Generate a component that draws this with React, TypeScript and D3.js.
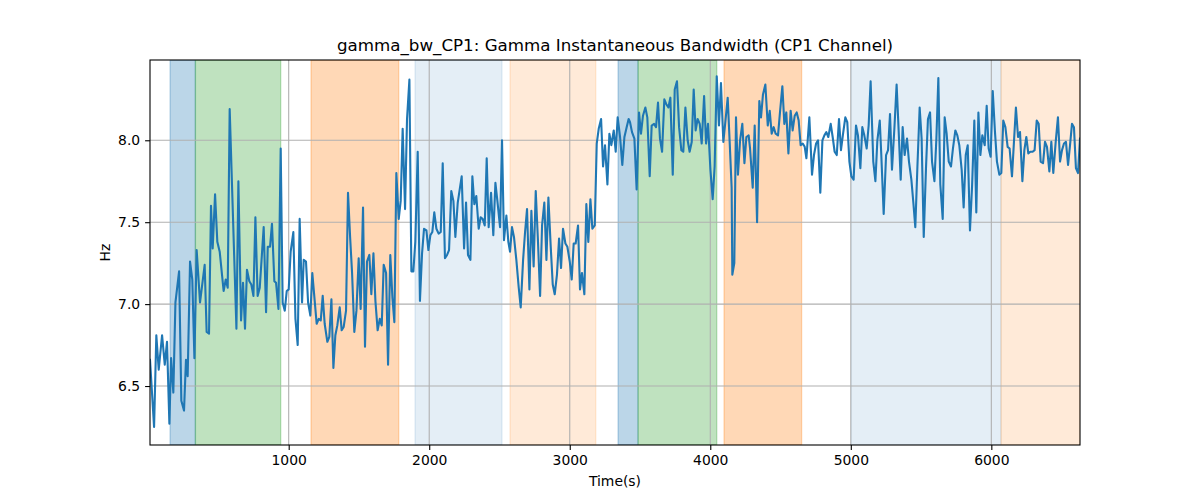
import * as d3 from "d3";
import { useEffect, useRef } from "react";

// sample times (s) and gamma bandwidth (Hz)
const times = [
  13, 42, 58, 75, 99, 118, 134, 151, 163, 179, 194, 220, 236, 255, 269, 281, 298, 314, 329, 345,
  369, 402, 416, 433, 447, 459, 476, 492, 509, 537, 552, 566, 580, 628, 642, 661, 675, 689, 703, 720,
  734, 749, 763, 779, 794, 822, 839, 851, 867, 881, 898, 910, 927, 943, 957, 972, 986, 1000, 1014, 1033,
  1048, 1064, 1078, 1095, 1107, 1123, 1138, 1154, 1168, 1185, 1199, 1214, 1228, 1242, 1256, 1275, 1289, 1304, 1318, 1332,
  1346, 1363, 1377, 1391, 1408, 1422, 1437, 1451, 1467, 1482, 1498, 1512, 1529, 1543, 1557, 1574, 1588, 1603, 1617, 1633,
  1648, 1662, 1676, 1693, 1707, 1723, 1738, 1752, 1766, 1783, 1797, 1811, 1828, 1842, 1859, 1873, 1887, 1901, 1918, 1934,
  1949, 1963, 1980, 1994, 2008, 2022, 2036, 2051, 2067, 2082, 2096, 2112, 2127, 2141, 2157, 2172, 2186, 2203, 2217, 2231,
  2248, 2262, 2276, 2293, 2307, 2321, 2335, 2352, 2366, 2380, 2395, 2409, 2423, 2440, 2456, 2471, 2485, 2504, 2518, 2532,
  2549, 2563, 2575, 2589, 2603, 2620, 2637, 2651, 2668, 2682, 2696, 2713, 2727, 2743, 2758, 2774, 2789, 2803, 2819, 2834,
  2848, 2864, 2879, 2893, 2909, 2924, 2938, 2952, 2969, 2983, 3000, 3014, 3028, 3042, 3059, 3073, 3087, 3104, 3118, 3132,
  3147, 3161, 3178, 3192, 3206, 3223, 3237, 3251, 3268, 3282, 3296, 3313, 3327, 3341, 3358, 3374, 3389, 3405, 3419, 3429,
  3443, 3460, 3476, 3493, 3507, 3521, 3538, 3552, 3569, 3583, 3600, 3614, 3628, 3642, 3657, 3673, 3687, 3702, 3716, 3733,
  3747, 3763, 3778, 3794, 3808, 3823, 3839, 3853, 3868, 3882, 3896, 3910, 3925, 3939, 3956, 3970, 3984, 4001, 4017, 4031,
  4046, 4062, 4076, 4093, 4107, 4124, 4138, 4152, 4157, 4171, 4183, 4197, 4212, 4228, 4243, 4257, 4273, 4283, 4302, 4316,
  4333, 4349, 4361, 4375, 4392, 4409, 4423, 4437, 4451, 4465, 4482, 4496, 4513, 4527, 4541, 4556, 4572, 4586, 4601, 4615,
  4629, 4643, 4658, 4672, 4684, 4705, 4724, 4738, 4753, 4767, 4783, 4798, 4812, 4826, 4840, 4857, 4871, 4885, 4900, 4916,
  4930, 4945, 4961, 4975, 4990, 5004, 5020, 5037, 5051, 5068, 5082, 5096, 5113, 5127, 5141, 5160, 5175, 5189, 5206, 5217,
  5234, 5251, 5265, 5279, 5293, 5310, 5326, 5341, 5355, 5369, 5383, 5400, 5414, 5431, 5445, 5459, 5474, 5490, 5504, 5519,
  5535, 5549, 5564, 5578, 5595, 5609, 5623, 5637, 5654, 5668, 5682, 5697, 5713, 5727, 5744, 5758, 5772, 5789, 5803, 5818,
  5832, 5848, 5863, 5879, 5893, 5908, 5922, 5936, 5953, 5967, 5981, 5995, 6010, 6026, 6040, 6057, 6071, 6085, 6100, 6116,
  6130, 6147, 6161, 6175, 6190, 6204, 6221, 6235, 6249, 6263, 6278, 6294, 6308, 6323, 6337, 6351, 6368, 6382, 6396, 6413,
  6427, 6441, 6458, 6474, 6489, 6503, 6517, 6531, 6546, 6560, 6574, 6588, 6602, 6617, 6631,
];

const bandwidth = [
  6.66, 6.25, 6.81, 6.60, 6.81, 6.63, 6.77, 6.27, 6.67, 6.46, 7.01, 7.20, 6.41, 6.35, 6.66, 6.56, 7.26, 7.15, 6.67, 7.33,
  7.01, 7.24, 6.83, 6.82, 7.60, 7.34, 7.67, 7.38, 7.32, 7.08, 7.15, 7.10, 8.19, 6.85, 7.75, 6.90, 7.13, 6.85, 7.21, 7.14,
  7.12, 7.05, 7.53, 7.05, 7.10, 7.47, 6.95, 7.35, 7.35, 7.49, 7.14, 7.13, 6.97, 7.95, 7.01, 6.96, 7.08, 7.09, 7.32, 7.44,
  6.91, 6.75, 7.52, 7.01, 7.27, 7.26, 7.01, 6.93, 7.19, 7.02, 6.88, 6.91, 6.90, 7.05, 6.88, 6.77, 6.80, 7.03, 6.61, 6.81,
  6.87, 6.98, 6.84, 6.86, 6.96, 7.68, 7.41, 7.19, 6.83, 6.96, 7.28, 6.97, 7.59, 6.74, 7.26, 7.30, 7.06, 7.31, 7.02, 6.84,
  6.91, 6.87, 7.24, 7.19, 6.63, 7.30, 7.04, 6.89, 7.80, 7.52, 7.63, 8.07, 7.58, 8.13, 8.37, 7.20, 7.20, 7.38, 7.93, 7.02,
  7.31, 7.46, 7.45, 7.33, 7.42, 7.44, 7.56, 7.46, 7.43, 7.44, 7.86, 7.28, 7.30, 7.33, 7.69, 7.63, 7.41, 7.62, 7.70, 7.78,
  7.34, 7.62, 7.30, 7.27, 7.78, 7.61, 7.66, 7.46, 7.53, 7.52, 7.48, 7.89, 7.47, 7.68, 7.42, 7.74, 7.63, 7.47, 8.00, 7.39,
  7.54, 7.38, 7.32, 7.47, 7.41, 7.27, 7.10, 6.98, 7.27, 7.44, 7.58, 7.09, 7.57, 7.23, 7.69, 7.38, 7.05, 7.48, 7.62, 7.27,
  7.65, 7.36, 7.12, 7.06, 7.18, 7.40, 7.22, 7.46, 7.37, 7.35, 7.26, 7.15, 7.37, 7.37, 7.48, 7.09, 7.19, 7.06, 7.61, 7.38,
  7.64, 7.46, 7.48, 7.98, 8.07, 8.13, 7.84, 7.97, 7.73, 8.04, 7.97, 8.06, 7.93, 8.14, 8.02, 7.85, 8.02, 8.08, 8.13, 8.11,
  8.05, 8.01, 7.70, 8.17, 8.04, 8.15, 8.20, 8.14, 7.78, 8.09, 8.10, 8.08, 8.23, 8.01, 7.93, 8.25, 8.22, 8.20, 8.26, 7.79,
  8.31, 8.36, 8.08, 7.94, 7.93, 8.20, 8.00, 7.93, 7.99, 8.31, 8.06, 8.13, 8.10, 7.98, 8.27, 7.98, 8.10, 7.82, 7.64, 7.84,
  8.39, 8.09, 8.35, 7.99, 8.11, 8.26, 7.99, 7.71, 7.18, 7.25, 8.14, 7.79, 8.00, 8.10, 7.86, 8.02, 8.03, 7.95, 7.71, 8.09,
  7.50, 8.24, 8.14, 8.28, 8.34, 8.09, 8.18, 8.04, 8.08, 8.04, 8.03, 8.17, 8.33, 8.10, 8.17, 7.92, 8.18, 8.06, 8.15, 8.17,
  8.12, 7.97, 7.98, 7.96, 7.89, 8.14, 7.79, 7.91, 7.98, 8.00, 7.68, 8.00, 8.03, 8.05, 8.02, 8.10, 8.02, 7.93, 7.91, 8.13,
  7.94, 8.04, 8.14, 8.11, 7.87, 7.78, 7.76, 8.09, 8.03, 7.83, 8.08, 8.03, 7.95, 8.09, 8.36, 7.87, 7.75, 8.00, 8.12, 7.91,
  7.55, 7.91, 7.94, 8.16, 7.82, 8.07, 8.34, 8.05, 7.76, 8.08, 7.91, 8.01, 7.87, 7.76, 7.62, 7.47, 7.84, 8.20, 8.01, 7.41,
  7.83, 8.13, 8.17, 7.87, 7.75, 8.01, 8.38, 7.73, 7.52, 8.14, 8.04, 7.87, 7.84, 7.95, 8.06, 8.03, 7.97, 7.82, 7.59, 7.91,
  7.97, 7.45, 7.72, 8.12, 7.56, 8.17, 7.91, 8.03, 7.97, 8.21, 7.95, 7.90, 8.30, 8.05, 7.87, 7.79, 7.80, 8.12, 8.08, 7.96,
  7.95, 7.78, 7.99, 8.20, 8.02, 8.05, 7.75, 7.94, 8.02, 7.92, 7.93, 7.93, 7.94, 8.12, 8.10, 7.87, 7.86, 7.99, 7.96, 7.81,
  7.99, 7.80, 7.99, 8.14, 7.87, 7.94, 7.98, 7.99, 7.85, 7.97, 8.10, 8.08, 7.83, 7.80, 8.01,
];

// shaded phases
const spanStarts = [156, 336, 1159, 1899, 2575, 3344, 3486, 4098, 5003, 6069];
const spanEnds = [336, 943, 1783, 2518, 3185, 3486, 4046, 4650, 6069, 6631];
const spanColors = ["#1f77b4", "#2ca02c", "#ff7f0e", "#1f77b4", "#ff7f0e", "#1f77b4", "#2ca02c", "#ff7f0e", "#1f77b4", "#ff7f0e"];
const spanAlphas = [0.3, 0.3, 0.3, 0.12, 0.16, 0.3, 0.3, 0.3, 0.12, 0.16];

const xTicks = [1000, 2000, 3000, 4000, 5000, 6000];
const yTicks = [6.5, 7.0, 7.5, 8.0];

const W = 1200, H = 500;
const margin = { left: 150, right: 120, top: 60, bottom: 55 };
const FONT = "DejaVu Sans, sans-serif";

const App = () => {
  const ref: any = useRef();

  useEffect(() => {
    document.body.style.margin = "0";
    const svg = d3.select(ref.current);
    svg.selectAll("*").remove();

    const x = d3.scaleLinear().domain([13, 6631]).range([margin.left, W - margin.right]);
    const y = d3.scaleLinear().domain([6.14, 8.49]).range([H - margin.bottom, margin.top]);
    const [x0, x1] = x.range();
    const [y0, y1] = y.range();

    svg.append("rect").attr("width", W).attr("height", H).attr("fill", "#fff");

    const plot = svg.append("g");
    plot.append("clipPath").attr("id", "clip")
      .append("rect").attr("x", x0).attr("y", y1).attr("width", x1 - x0).attr("height", y0 - y1);

    // spans
    plot.append("g").attr("clip-path", "url(#clip)")
      .selectAll("rect")
      .data(spanStarts.map((s, i) => ({ s, e: spanEnds[i], c: spanColors[i], a: spanAlphas[i] })))
      .join("rect")
      .attr("x", d => x(d.s))
      .attr("y", y1)
      .attr("width", d => x(d.e) - x(d.s))
      .attr("height", y0 - y1)
      .attr("fill", d => d.c)
      .attr("fill-opacity", d => d.a)
      .attr("stroke", d => d.c)
      .attr("stroke-opacity", d => d.a)
      .attr("stroke-width", 1.3);

    // grid
    const grid = plot.append("g").attr("stroke", "#b0b0b0").attr("stroke-width", 1.1);
    grid.selectAll(".gx").data(xTicks).join("line")
      .attr("x1", d => x(d)).attr("x2", d => x(d)).attr("y1", y0).attr("y2", y1);
    grid.selectAll(".gy").data(yTicks).join("line")
      .attr("y1", d => y(d)).attr("y2", d => y(d)).attr("x1", x0).attr("x2", x1);

    // line
    const line = d3.line<number>().x((_, i) => x(times[i])).y(d => y(d));
    plot.append("path")
      .attr("clip-path", "url(#clip)")
      .attr("d", line(bandwidth))
      .attr("fill", "none")
      .attr("stroke", "#1f77b4")
      .attr("stroke-width", 2.1)
      .attr("stroke-linejoin", "round")
      .attr("stroke-linecap", "square");

    // axes
    const xAxis = svg.append("g").attr("transform", `translate(0,${y0})`)
      .call(d3.axisBottom(x).tickValues(xTicks).tickFormat(d3.format("d")).tickSize(4.9).tickPadding(4.9));
    const yAxis = svg.append("g").attr("transform", `translate(${x0},0)`)
      .call(d3.axisLeft(y).tickValues(yTicks).tickFormat(d3.format(".1f")).tickSize(4.9).tickPadding(4.9));
    [xAxis, yAxis].forEach(a => {
      a.select(".domain").remove();
      a.selectAll("line").attr("stroke", "#000").attr("stroke-width", 1.1);
      a.selectAll("text").attr("font-family", FONT).attr("font-size", 13.9).attr("fill", "#000");
    });

    // spines
    svg.append("rect")
      .attr("x", x0).attr("y", y1).attr("width", x1 - x0).attr("height", y0 - y1)
      .attr("fill", "none").attr("stroke", "#000").attr("stroke-width", 1.1);

    svg.append("text")
      .attr("x", (x0 + x1) / 2).attr("y", 51)
      .attr("text-anchor", "middle")
      .attr("font-family", FONT).attr("font-size", 16.7)
      .text("gamma_bw_CP1: Gamma Instantaneous Bandwidth (CP1 Channel)");

    svg.append("text")
      .attr("x", (x0 + x1) / 2).attr("y", 486)
      .attr("text-anchor", "middle")
      .attr("font-family", FONT).attr("font-size", 13.9)
      .text("Time(s)");

    svg.append("text")
      .attr("transform", `translate(110,${(y0 + y1) / 2}) rotate(-90)`)
      .attr("text-anchor", "middle")
      .attr("font-family", FONT).attr("font-size", 13.9)
      .text("Hz");
  }, []);

  return <svg ref={ref} width={W} height={H} style={{ display: "block" }} />;
};

export default App;
